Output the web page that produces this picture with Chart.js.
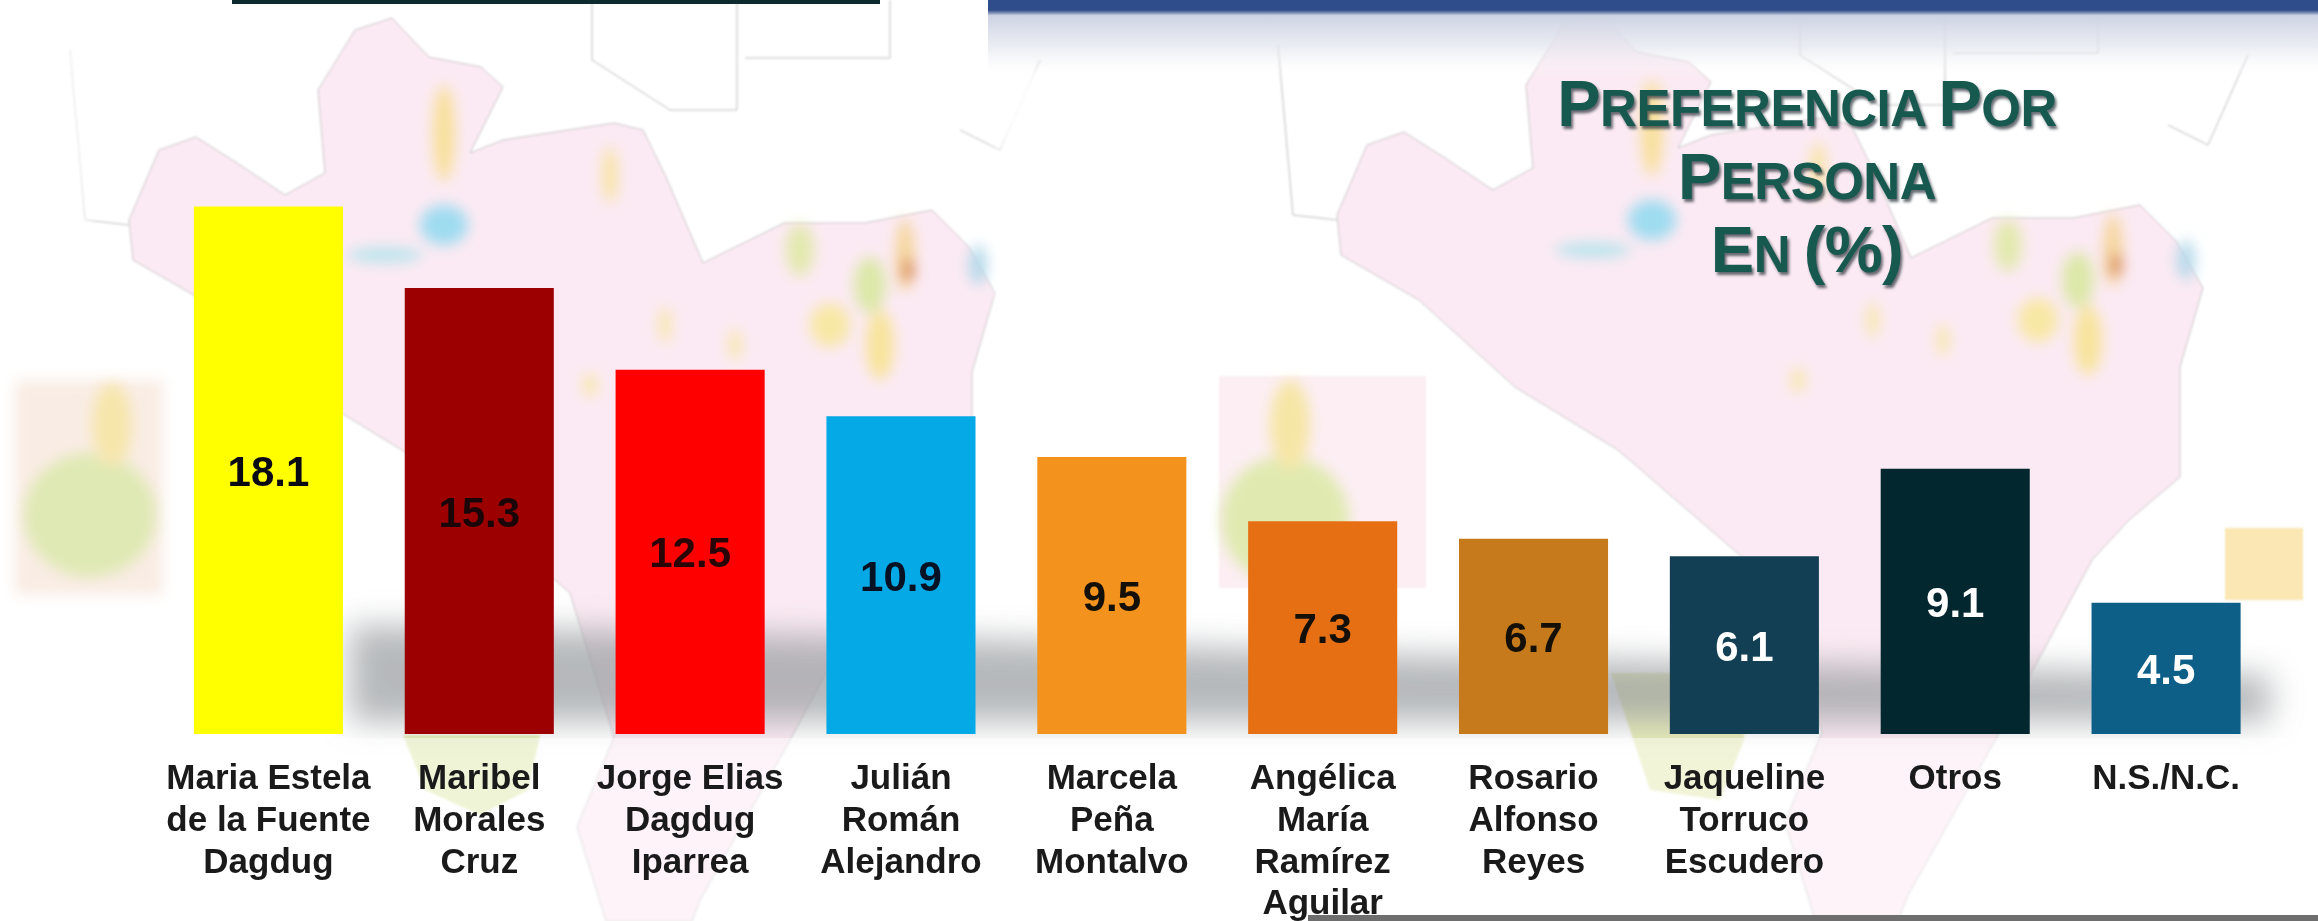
<!DOCTYPE html>
<html lang="es">
<head>
<meta charset="utf-8">
<title>Preferencia por persona</title>
<script src="https://cdn.jsdelivr.net/npm/chart.js@4"></script>
<style>
    html, body { margin: 0; padding: 0; background: #fff; }
    #page { position: relative; width: 2318px; height: 921px; overflow: hidden; background: #fff; }
    #backdrop { position: absolute; left: 0; top: 0; }
    #chartBox { position: absolute; left: 0; top: 0; width: 2318px; height: 921px; filter: blur(0.7px); }
    #title {
        position: absolute; left: 1457px; top: 70px; width: 700px;
        text-align: center; font: bold 51px/68px "Liberation Sans", sans-serif;
        color: #17584f; letter-spacing: -0.5px;
        text-shadow: 2px 3px 3px rgba(20, 30, 40, 0.65); filter: blur(0.6px);
    }
    #title span { font-size: 65px; }
</style>
</head>
<body>
<div id="page">
    <!-- washed out map behind the chart -->
    <svg id="backdrop" width="2318" height="921" viewBox="0 0 2318 921">
        <defs>
            <filter id="soft" x="-50%" y="-50%" width="200%" height="200%"><feGaussianBlur stdDeviation="7"/></filter>
            <filter id="softer" x="-30%" y="-80%" width="160%" height="260%"><feGaussianBlur stdDeviation="16"/></filter>
            <filter id="line"><feGaussianBlur stdDeviation="0.8"/></filter>
            <linearGradient id="band" x1="0" y1="0" x2="0" y2="1">
                <stop offset="0" stop-color="#2f4d8a"/>
                <stop offset="0.13" stop-color="#2f4d8a"/>
                <stop offset="0.2" stop-color="#cdd3e3"/>
                <stop offset="0.6" stop-color="#e3e5ee" stop-opacity="0.7"/>
                <stop offset="1" stop-color="#ffffff" stop-opacity="0"/>
            </linearGradient>
            <g id="map">
                <path d="M129 220 L159 150 L196 137 L237 163 L285 195 L325 173 L318 90 L355 30 L392 18 L429 57 L481 67 L503 87 L470 153 L503 140 L614 123 L643 130 L666 177 L703 263 L784 223 L865 223 L932 210 L969 247 L995 293 L972 372 L972 482 L921 525 L884 565 L790 740 L700 900 L692 921 L606 921 L577 827 L614 737 L570 593 L410 455 L307 392 L211 305 L133 260 Z"
                      fill="#fbeaf3" stroke="#c9c4c8" stroke-width="1" filter="url(#line)"/>
                <g filter="url(#soft)">
                    <ellipse cx="444" cy="133" rx="11" ry="48" fill="#f8e09a"/>
                    <ellipse cx="444" cy="225" rx="24" ry="20" fill="#9fdcf0"/>
                    <ellipse cx="385" cy="255" rx="38" ry="7" fill="#b5e4ec"/>
                    <ellipse cx="610" cy="175" rx="7" ry="28" fill="#f8e4a0"/>
                    <ellipse cx="800" cy="250" rx="14" ry="26" fill="#e3e9ae"/>
                    <ellipse cx="870" cy="285" rx="16" ry="28" fill="#dce8a8"/>
                    <ellipse cx="905" cy="255" rx="9" ry="36" fill="#f5d598"/>
                    <ellipse cx="908" cy="270" rx="6" ry="12" fill="#d9874e"/>
                    <ellipse cx="880" cy="345" rx="14" ry="35" fill="#f8e49c"/>
                    <ellipse cx="830" cy="325" rx="20" ry="22" fill="#f8e8a5"/>
                    <ellipse cx="978" cy="265" rx="9" ry="20" fill="#b5d9ea"/>
                    <ellipse cx="665" cy="325" rx="6" ry="18" fill="#f8e8ac"/>
                    <ellipse cx="735" cy="345" rx="6" ry="16" fill="#f8e8ac"/>
                    <ellipse cx="590" cy="385" rx="7" ry="12" fill="#f8e8ac"/>
                </g>
                <g fill="none" stroke="#bdbdc2" stroke-width="1" filter="url(#line)">
                    <path d="M592 0 L592 60 L670 110 L737 110 L737 0"/>
                    <path d="M745 58 L890 58 L890 0"/>
                    <path d="M70 50 L85 220 L129 225"/>
                    <path d="M960 130 L1000 150 L1040 60"/>
                </g>
            </g>
        </defs>

        <use href="#map"/>
        <use href="#map" transform="translate(1208 -5)"/>

        <!-- white haze from the slide covering the map in places -->
        <rect x="1000" y="70" width="150" height="660" fill="#ffffff" opacity="0.85" filter="url(#soft)"/>
        <rect x="0" y="0" width="90" height="370" fill="#ffffff" opacity="0.6" filter="url(#soft)"/>

        <!-- inset maps -->
        <rect x="15" y="380" width="148" height="215" fill="#f9ece4" filter="url(#soft)"/>
        <ellipse cx="90" cy="515" rx="66" ry="62" fill="#dfe9b4" filter="url(#soft)"/>
        <ellipse cx="112" cy="425" rx="20" ry="42" fill="#f6e6ac" filter="url(#soft)"/>
        <rect x="1219" y="376" width="207" height="212" fill="#fceef3" filter="url(#line)"/>
        <ellipse cx="1285" cy="520" rx="64" ry="64" fill="#e0eab0" filter="url(#soft)"/>
        <ellipse cx="1290" cy="425" rx="20" ry="45" fill="#f6e6a6" filter="url(#soft)"/>
        <rect x="2225" y="528" width="78" height="72" fill="#fae7b4" filter="url(#line)"/>
        <path d="M403 735 L540 735 L528 790 L480 815 L425 790 Z" fill="#e3ebb4" filter="url(#line)"/>
        <path d="M1611 673 L1744 673 L1744 740 L1720 800 L1650 790 Z" fill="#e7ebb8" filter="url(#line)"/>

        <!-- shadow the bars throw on the floor -->
        <path d="M350 625 L1000 640 L1400 655 L2270 675 L2270 722 L350 722 Z" fill="#9a9ea1" opacity="0.72" filter="url(#softer)"/>
        <rect x="0" y="738" width="2318" height="183" fill="#ffffff" opacity="0.45"/>

        <!-- leftovers of the slide frame -->
        <rect x="988" y="0" width="1330" height="78" fill="url(#band)"/>
        <rect x="232" y="0" width="648" height="4" fill="#0d2a2c"/>
        <rect x="1308" y="915" width="1010" height="6" fill="#6e6e6e"/>
    </svg>

    <div id="chartBox"><canvas id="preferenceChart" width="2318" height="921"></canvas></div>

    <div id="title"><span>P</span>REFERENCIA <span>P</span>OR<br><span>P</span>ERSONA<br><span>E</span>N <span>(%)</span></div>
</div>

<script>
// Configuration
const candidates = [
    ['Maria Estela', 'de la Fuente', 'Dagdug'],
    ['Maribel', 'Morales', 'Cruz'],
    ['Jorge Elias', 'Dagdug', 'Iparrea'],
    ['Julián', 'Román', 'Alejandro'],
    ['Marcela', 'Peña', 'Montalvo'],
    ['Angélica', 'María', 'Ramírez', 'Aguilar'],
    ['Rosario', 'Alfonso', 'Reyes'],
    ['Jaqueline', 'Torruco', 'Escudero'],
    ['Otros'],
    ['N.S./N.C.']
];
const preference = [18.1, 15.3, 12.5, 10.9, 9.5, 7.3, 6.7, 6.1, 9.1, 4.5];
const barColors = ['#ffff00', '#9c0000', '#ff0000', '#04a9e6', '#f4921e', '#e66f14', '#c67a1c', '#123f54', '#03272f', '#0d5f88'];
const valueColors = ['#0a0a14', '#1a0508', '#2a0508', '#061224', '#141008', '#141008', '#141008', '#ffffff', '#ffffff', '#ffffff'];

// Writes each value in the middle of its bar
const valueLabels = {
    id: 'valueLabels',
    afterDatasetsDraw(chart) {
        const ctx = chart.ctx;
        ctx.save();
        ctx.font = 'bold 42px "Liberation Sans", sans-serif';
        ctx.textAlign = 'center';
        ctx.textBaseline = 'middle';
        chart.getDatasetMeta(0).data.forEach((bar, i) => {
            ctx.fillStyle = valueColors[i];
            ctx.fillText(preference[i].toFixed(1), bar.x, (bar.y + bar.base) / 2 + 4);
        });
        ctx.restore();
    }
};

new Chart(document.getElementById('preferenceChart'), {
    type: 'bar',
    data: {
        labels: candidates,
        datasets: [{
            data: preference,
            backgroundColor: barColors,
            borderWidth: 0,
            categoryPercentage: 1,
            barPercentage: 0.707
        }]
    },
    options: {
        responsive: false,
        animation: false,
        layout: { padding: { left: 163, right: 46.5, top: 151, bottom: 0 } },
        plugins: { legend: { display: false }, tooltip: { enabled: false }, title: { display: false } },
        scales: {
            y: { display: false, min: 0, max: 20 },
            x: {
                border: { display: false },
                grid: { display: false },
                afterFit(scale) { scale.height = 187; },
                ticks: {
                    autoSkip: false,
                    maxRotation: 0,
                    padding: 17,
                    color: '#1a1a1a',
                    font: { family: '"Liberation Sans", sans-serif', size: 35, weight: 'bold', lineHeight: 1.19 }
                }
            }
        }
    },
    plugins: [valueLabels]
});
</script>
</body>
</html>
